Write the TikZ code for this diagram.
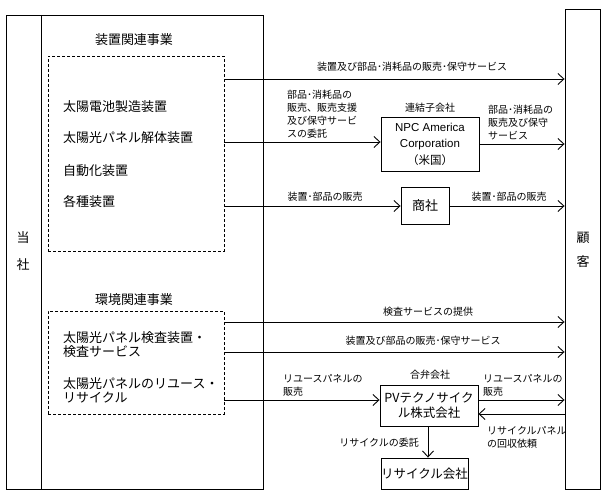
\documentclass[tikz,border=0pt]{standalone}
\usepackage{fontspec}
\setmainfont{Noto Sans CJK JP}
\newfontfamily\lat{Liberation Sans}
\usetikzlibrary{arrows.meta}
\tikzset{
  box/.style={draw, line width=0.9pt, inner sep=0pt},
  dbox/.style={draw, dash pattern=on 3pt off 2pt, line width=0.9pt, inner sep=0pt},
  arr/.style={line width=0.9pt, -{Straight Barb[length=6pt,width=11pt,line width=0.9pt]}},
  lab/.style={font=\fontsize{10}{13}\selectfont, align=left, inner sep=0pt},
  big/.style={font=\fontsize{13}{14}\selectfont, inner sep=0pt},
  item/.style={big, anchor=west, align=left},
  boxtxt/.style={font=\fontsize{12.5}{15}\selectfont, align=center, inner sep=0pt}
}
\begin{document}
\begin{tikzpicture}[x=1pt,y=-1pt]
\useasboundingbox (0,0) rectangle (606,497);
% company
\node[box, minimum width=257, minimum height=474] (tosha) at (134.5,252) {};
\coordinate (divT) at (41,15);
\coordinate (divB) at (41,489);
\draw[line width=0.9pt] (divT) -- (divB);
\node[big] (to) at (23,238) {当};
\node[big] (sha) at (23,265) {社};
% customer
\node[box, minimum width=35, minimum height=480] (cust) at (582.5,249) {};
\node[big] (ko) at (583,238) {顧};
\node[big] (kyaku) at (583,262) {客};
% business 1
\node[big] (h1) at (134,40) {装置関連事業};
\node[dbox, minimum width=176, minimum height=195] (d1) at (136,153.5) {};
\node[item] (i1) at (63,107) {太陽電池製造装置};
\node[item] (i2) at (63,138) {太陽光パネル解体装置};
\node[item] (i3) at (63,171) {自動化装置};
\node[item] (i4) at (63,202) {各種装置};
% business 2
\node[big] (h2) at (134,300) {環境関連事業};
\node[dbox, minimum width=176, minimum height=103] (d2) at (136,362.5) {};
\node[item] (j1) at (63,344.5) {太陽光パネル検査装置・\\検査サービス};
\node[item] (j2) at (63,390) {太陽光パネルのリユース・\\リサイクル};
% NPC
\node[box, minimum width=98, minimum height=54] (npc) at (430,144) {};
\node[boxtxt, font=\lat\fontsize{11.5}{16.5}\selectfont] (npct) at (430,144) {NPC America\\Corporation\\\fontspec{Noto Sans CJK JP}（米国）};
\node[lab] (npcl) at (430,108) {連結子会社};
% shosha
\node[box, minimum width=48, minimum height=37, font=\fontsize{13}{14}\selectfont] (shosha) at (425,205.5) {商社};
% PV
\node[box, minimum width=98, minimum height=41] (pv) at (429,405.5) {};
\node[boxtxt] (pvt) at (429,405.5) {PVテクノサイク\\ル株式会社};
\node[lab] (pvl) at (430,375) {合弁会社};
% recycle
\node[box, minimum width=87, minimum height=31, font=\fontsize{12.5}{14}\selectfont] (rec) at (424.5,473.5) {リサイクル会社};
% helper coordinates
\coordinate (h79) at (0,79);
\coordinate (h142) at (0,142);
\coordinate (h144) at (0,144);
\coordinate (h206) at (0,206);
\coordinate (h322) at (0,322);
\coordinate (h352) at (0,352);
\coordinate (h400) at (0,400);
\coordinate (h414) at (0,414);
\coordinate (v428) at (428,0);
% arrows
\draw[arr] (d1.east |- h79) -- (cust.west |- h79);
\draw[arr] (d1.east |- h142) -- (npc.west |- h142);
\draw[arr] (npc.east |- h144) -- (cust.west |- h144);
\draw[arr] (d1.east |- h206) -- (shosha.west |- h206);
\draw[arr] (shosha.east |- h206) -- (cust.west |- h206);
\draw[arr] (d2.east |- h322) -- (cust.west |- h322);
\draw[arr] (d2.east |- h352) -- (cust.west |- h352);
\draw[arr] (d2.east |- h400) -- (pv.west |- h400);
\draw[arr] (pv.east |- h400) -- (cust.west |- h400);
\draw[arr] (cust.west |- h414) -- (pv.east |- h414);
\draw[arr] (pv.south -| v428) -- (rec.north -| v428);
% labels
\node[lab] (l1) at (412,67) {装置及び部品･消耗品の販売･保守サービス};
\node[lab, anchor=west] (l2) at (287,114.5) {部品･消耗品の\\販売、販売支援\\及び保守サービ\\スの委託};
\node[lab, anchor=west] (l3) at (488,123) {部品･消耗品の\\販売及び保守\\サービス};
\node[lab] (l4) at (325,197) {装置･部品の販売};
\node[lab] (l5) at (509,197) {装置･部品の販売};
\node[lab] (l6) at (428,312) {検査サービスの提供};
\node[lab] (l7) at (423,341) {装置及び部品の販売･保守サービス};
\node[lab, anchor=west] (l8) at (283,385.5) {リユースパネルの\\販売};
\node[lab, anchor=west] (l9) at (483,385.5) {リユースパネルの\\販売};
\node[lab, anchor=west] (l10) at (487,437) {リサイクルパネル\\の回収依頼};
\node[lab, anchor=east] (l11) at (419,443) {リサイクルの委託};
\end{tikzpicture}
\end{document}
